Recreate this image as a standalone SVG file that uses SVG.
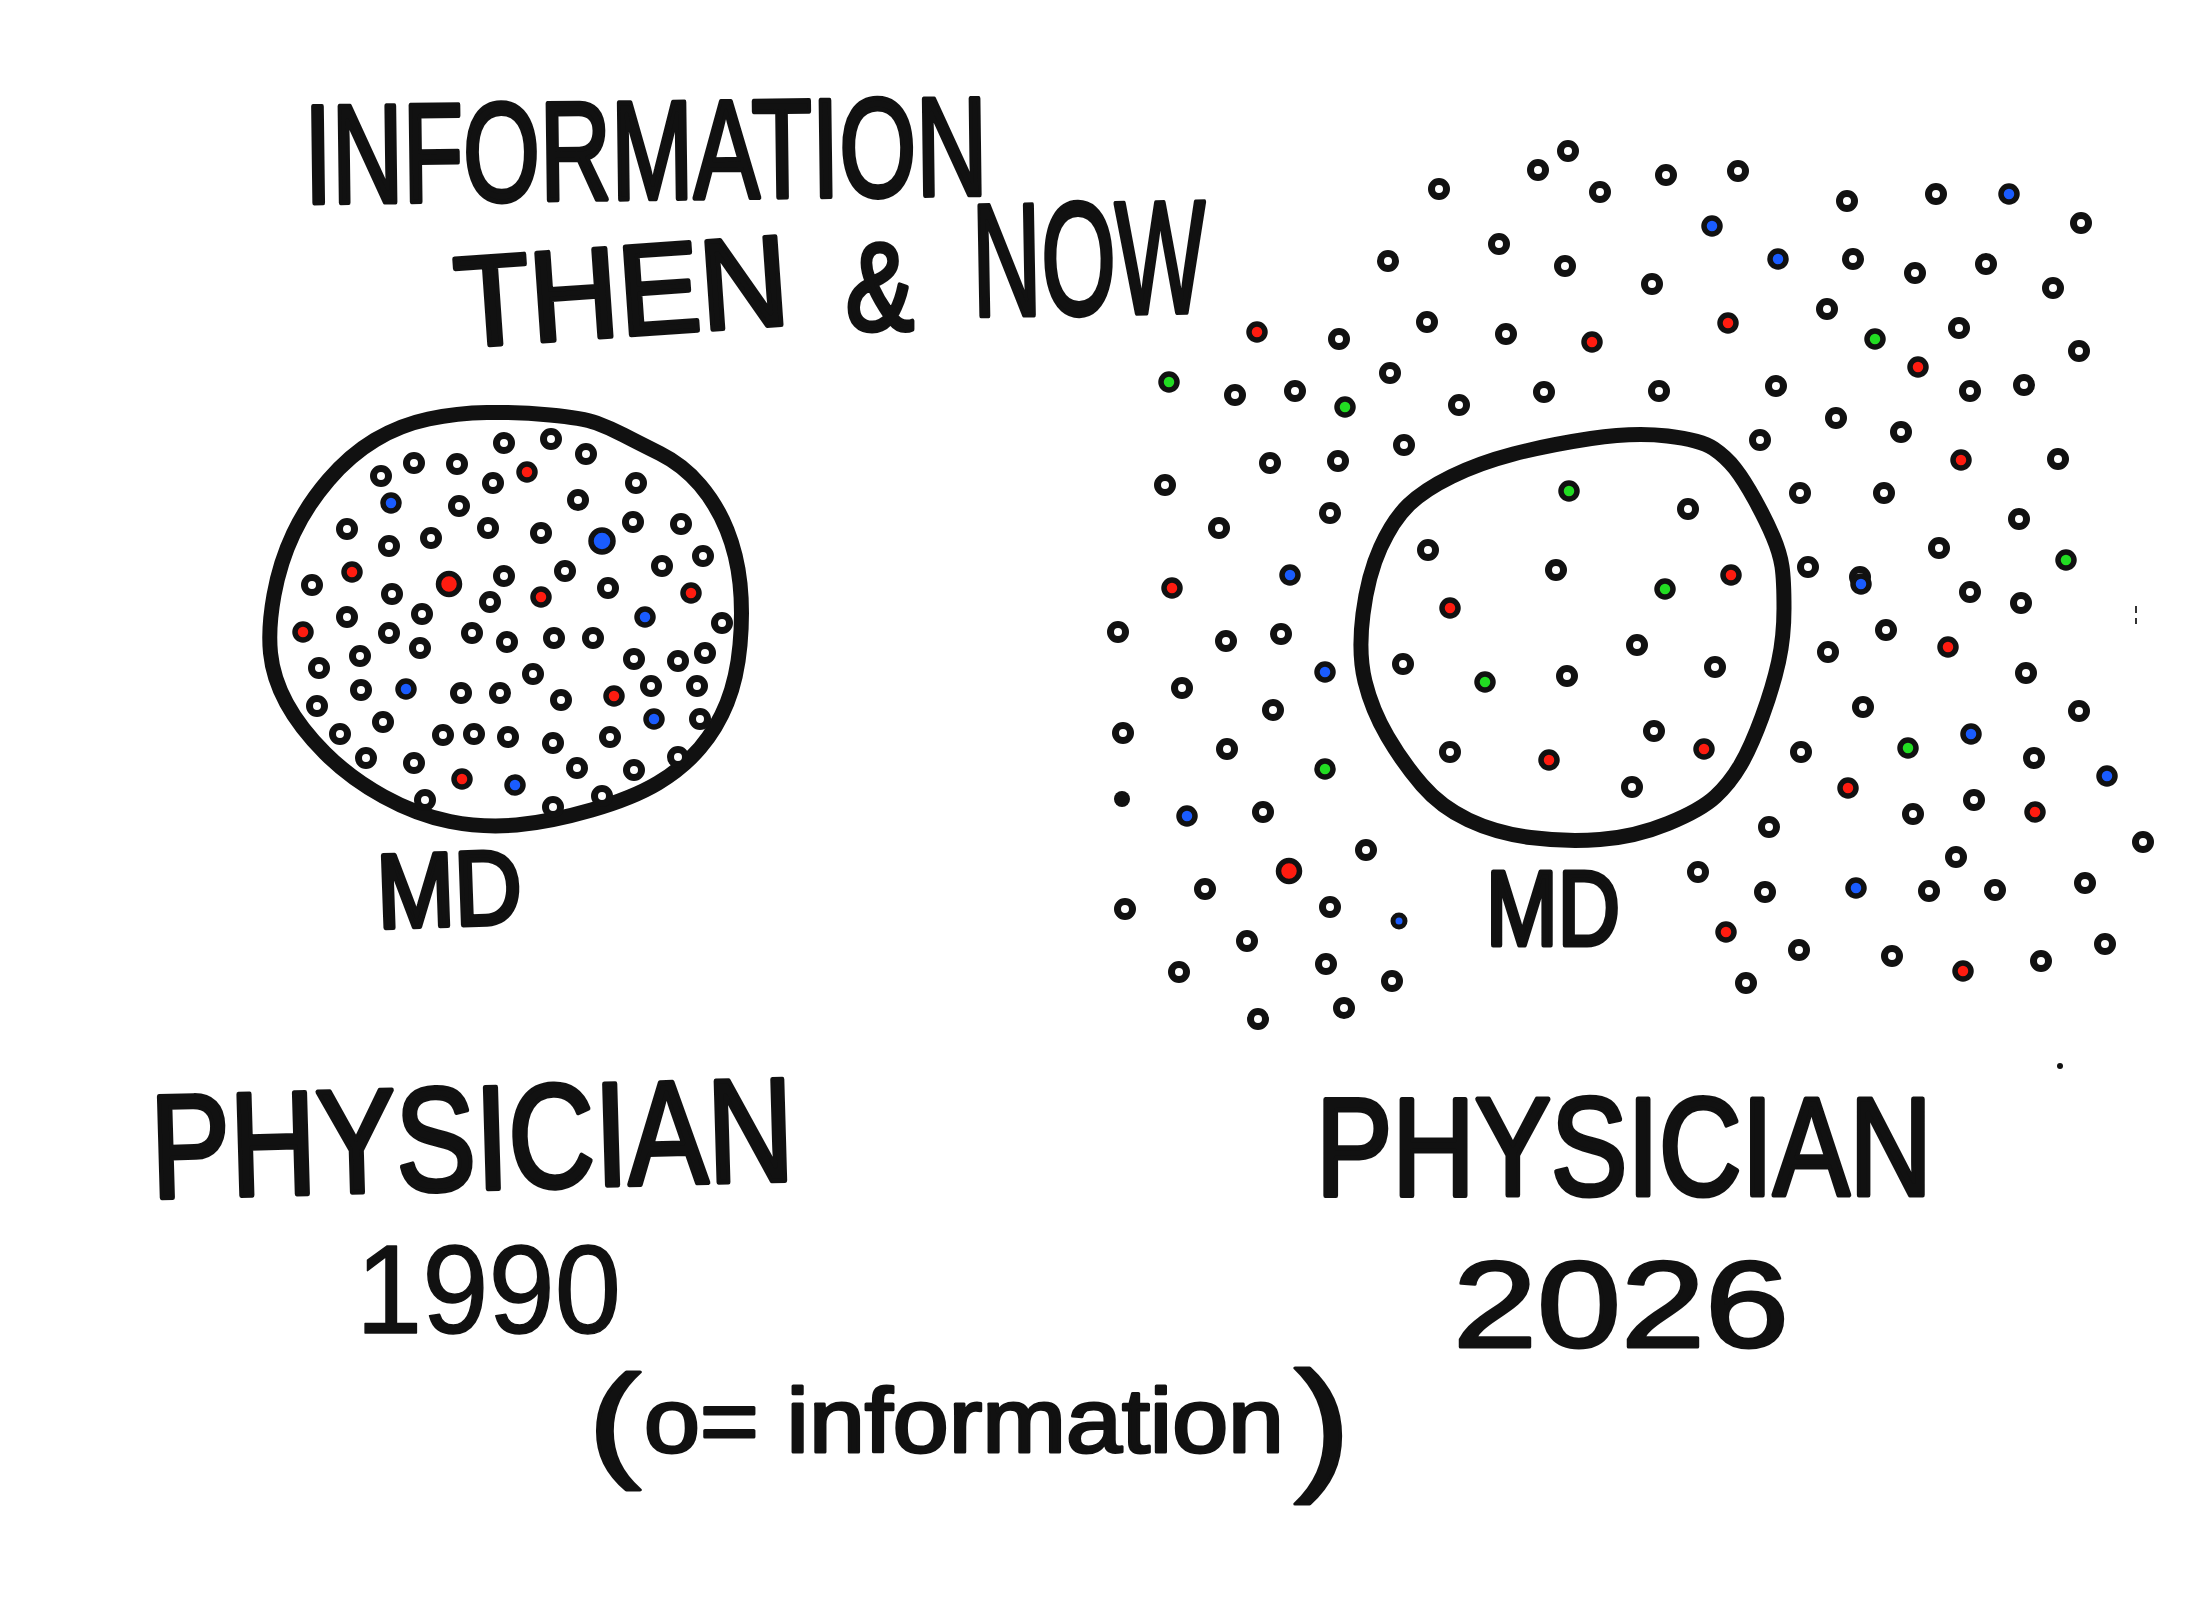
<svg xmlns="http://www.w3.org/2000/svg" width="2208" height="1597" viewBox="0 0 2208 1597">
<style>
.t{font-family:"Liberation Sans",Arial,sans-serif;fill:#111;stroke:#111;stroke-width:5;stroke-linejoin:round}
.thin{stroke-width:1.5}
.mid{stroke-width:3}
.ring{fill:none;stroke:#111;stroke-width:15;stroke-linejoin:round}
</style>
<defs>
<circle id="o" r="7.5" fill="#fff" stroke="#111" stroke-width="7"/>
<circle id="k" r="8" fill="#111"/>
<circle id="R" r="8" fill="#ff1c10" stroke="#111" stroke-width="5.5"/>
<circle id="RB" r="10.5" fill="#ff1c10" stroke="#111" stroke-width="5.5"/>
<circle id="B" r="8" fill="#1a5cff" stroke="#111" stroke-width="5.5"/>
<circle id="BB" r="11" fill="#1a5cff" stroke="#111" stroke-width="5.5"/>
<circle id="Bs" r="6" fill="#1a5cff" stroke="#111" stroke-width="5"/>
<circle id="G" r="8" fill="#22dd22" stroke="#111" stroke-width="5.5"/>
</defs>
<rect width="2208" height="1597" fill="#fff"/>

<g id="title">
<text class="t" x="305" y="203" font-size="140" textLength="683" lengthAdjust="spacingAndGlyphs" transform="rotate(-0.7 305 203)">INFORMATION</text>
<text class="t" x="458" y="347" font-size="128" textLength="334" lengthAdjust="spacingAndGlyphs" transform="rotate(-4 458 347)">THEN</text>
<text class="t" x="846" y="330" font-size="125" textLength="68" lengthAdjust="spacingAndGlyphs">&amp;</text>
<text class="t" x="973" y="316" font-size="160" textLength="234" lengthAdjust="spacingAndGlyphs" transform="rotate(-1 973 316)">NOW</text>
</g>

<g id="md-1990">
<path class="ring" d="M270.5,653 Q268,628 274,595 Q280,562 293.5,533.5 Q307,505 328.5,480 Q350,455 375,440 Q400,425 428.5,419 Q457,413 487,412.5 Q517,412 550,415 Q583,418 596.5,423 Q610,428 623.5,435 Q637,442 660,453.5 Q683,465 700,485 Q717,505 727,530 Q737,555 740,583.5 Q743,612 740,645 Q737,678 727,703 Q717,728 700,748 Q683,768 658,783 Q633,798 591.5,810 Q550,822 516.5,825 Q483,828 450,821.5 Q417,815 383.5,796.5 Q350,778 325,753 Q300,728 286.5,703 Q273,678 270.5,653 Z"/>
<g id="dots-1990">
<use href="#o" x="504" y="443"/><use href="#o" x="551" y="439"/><use href="#o" x="586" y="454"/><use href="#o" x="414" y="463"/><use href="#o" x="457" y="464"/><use href="#o" x="381" y="476"/><use href="#o" x="493" y="483"/><use href="#o" x="636" y="483"/><use href="#o" x="459" y="506"/><use href="#o" x="578" y="500"/><use href="#o" x="347" y="529"/><use href="#o" x="488" y="528"/><use href="#o" x="541" y="533"/><use href="#o" x="633" y="522"/><use href="#o" x="681" y="524"/><use href="#o" x="431" y="538"/><use href="#o" x="389" y="546"/><use href="#o" x="703" y="556"/><use href="#o" x="504" y="576"/><use href="#o" x="565" y="571"/><use href="#o" x="662" y="566"/><use href="#o" x="312" y="585"/><use href="#o" x="392" y="594"/><use href="#o" x="608" y="588"/><use href="#o" x="490" y="602"/><use href="#o" x="422" y="614"/><use href="#o" x="347" y="617"/><use href="#o" x="722" y="623"/><use href="#o" x="389" y="633"/><use href="#o" x="472" y="633"/><use href="#o" x="507" y="642"/><use href="#o" x="554" y="638"/><use href="#o" x="593" y="638"/><use href="#o" x="420" y="648"/><use href="#o" x="360" y="656"/><use href="#o" x="634" y="659"/><use href="#o" x="678" y="661"/><use href="#o" x="705" y="653"/><use href="#o" x="319" y="668"/><use href="#o" x="533" y="674"/><use href="#o" x="361" y="690"/><use href="#o" x="461" y="693"/><use href="#o" x="500" y="693"/><use href="#o" x="561" y="700"/><use href="#o" x="651" y="686"/><use href="#o" x="697" y="686"/><use href="#o" x="317" y="706"/><use href="#o" x="383" y="722"/><use href="#o" x="700" y="719"/><use href="#o" x="340" y="734"/><use href="#o" x="443" y="735"/><use href="#o" x="474" y="734"/><use href="#o" x="508" y="737"/><use href="#o" x="553" y="743"/><use href="#o" x="610" y="737"/><use href="#o" x="366" y="758"/><use href="#o" x="414" y="763"/><use href="#o" x="577" y="768"/><use href="#o" x="634" y="770"/><use href="#o" x="678" y="757"/><use href="#o" x="425" y="800"/><use href="#o" x="553" y="807"/><use href="#o" x="602" y="796"/>
<use href="#R" x="527" y="472"/><use href="#R" x="352" y="572"/><use href="#R" x="541" y="597"/><use href="#R" x="691" y="593"/><use href="#R" x="303" y="632"/><use href="#R" x="614" y="696"/><use href="#R" x="462" y="779"/><use href="#RB" x="449" y="584"/>
<use href="#B" x="391" y="503"/><use href="#B" x="645" y="617"/><use href="#B" x="406" y="689"/><use href="#B" x="654" y="719"/><use href="#B" x="515" y="785"/><use href="#BB" x="602" y="541"/>
</g>
<text class="t" x="378" y="928" font-size="105" textLength="145" lengthAdjust="spacingAndGlyphs" transform="rotate(-2 378 928)">MD</text>
</g>

<g id="md-2026">
<path class="ring" d="M1365,681.5 Q1358,653 1363,614 Q1368,575 1380.5,547.5 Q1393,520 1408.5,505 Q1424,490 1451.5,476.5 Q1479,463 1513.5,454 Q1548,445 1591,438.5 Q1634,432 1667.5,436 Q1701,440 1713.5,448.5 Q1726,457 1735,468.5 Q1744,480 1755,500 Q1766,520 1773,536.5 Q1780,553 1782,566.5 Q1784,580 1784,608.5 Q1784,637 1778.5,662 Q1773,687 1762,717 Q1751,747 1740.5,765 Q1730,783 1715.5,796.5 Q1701,810 1668,823.5 Q1635,837 1600,839.5 Q1565,842 1530.5,837.5 Q1496,833 1468.5,820 Q1441,807 1422,785 Q1403,763 1387.5,736.5 Q1372,710 1365,681.5 Z"/>
<g id="dots-2026-inside">
<use href="#o" x="1428" y="550"/><use href="#o" x="1556" y="570"/><use href="#o" x="1403" y="664"/><use href="#o" x="1567" y="676"/><use href="#o" x="1450" y="752"/><use href="#o" x="1637" y="645"/><use href="#o" x="1715" y="667"/><use href="#o" x="1654" y="731"/><use href="#o" x="1632" y="787"/><use href="#o" x="1688" y="509"/>
<use href="#G" x="1569" y="491"/><use href="#G" x="1485" y="682"/><use href="#G" x="1665" y="589"/>
<use href="#R" x="1450" y="608"/><use href="#R" x="1549" y="760"/><use href="#R" x="1731" y="575"/><use href="#R" x="1704" y="749"/>
</g>
<text class="t" x="1486" y="945" font-size="105" textLength="134" lengthAdjust="spacingAndGlyphs">MD</text>
</g>

<g id="dots-2026-outside">
<use href="#o" x="1439" y="189"/><use href="#o" x="1538" y="170"/><use href="#o" x="1568" y="151"/><use href="#o" x="1600" y="192"/><use href="#o" x="1499" y="244"/><use href="#o" x="1388" y="261"/><use href="#o" x="1565" y="266"/><use href="#o" x="1339" y="339"/><use href="#o" x="1427" y="322"/><use href="#o" x="1506" y="334"/><use href="#o" x="1235" y="395"/><use href="#o" x="1295" y="391"/><use href="#o" x="1390" y="373"/><use href="#o" x="1459" y="405"/><use href="#o" x="1544" y="392"/><use href="#o" x="1404" y="445"/><use href="#o" x="1270" y="463"/><use href="#o" x="1338" y="461"/><use href="#o" x="1165" y="485"/><use href="#o" x="1330" y="513"/><use href="#o" x="1219" y="528"/>
<use href="#o" x="1666" y="175"/><use href="#o" x="1738" y="171"/><use href="#o" x="1847" y="201"/><use href="#o" x="1936" y="194"/><use href="#o" x="2081" y="223"/><use href="#o" x="1853" y="259"/><use href="#o" x="1915" y="273"/><use href="#o" x="1986" y="264"/><use href="#o" x="2053" y="288"/><use href="#o" x="1652" y="284"/><use href="#o" x="1827" y="309"/><use href="#o" x="1959" y="328"/><use href="#o" x="2079" y="351"/><use href="#o" x="1659" y="391"/><use href="#o" x="1776" y="386"/><use href="#o" x="1970" y="391"/><use href="#o" x="2024" y="385"/><use href="#o" x="1836" y="418"/><use href="#o" x="1901" y="432"/><use href="#o" x="1760" y="440"/><use href="#o" x="2058" y="459"/><use href="#o" x="1800" y="493"/><use href="#o" x="1884" y="493"/><use href="#o" x="2019" y="519"/><use href="#o" x="1939" y="548"/><use href="#o" x="1808" y="567"/><use href="#o" x="1860" y="577"/>
<use href="#o" x="1118" y="632"/><use href="#o" x="1226" y="641"/><use href="#o" x="1281" y="634"/><use href="#o" x="1182" y="688"/><use href="#o" x="1273" y="710"/><use href="#o" x="1123" y="733"/><use href="#o" x="1227" y="749"/><use href="#o" x="1263" y="812"/><use href="#o" x="1366" y="850"/><use href="#o" x="1205" y="889"/><use href="#o" x="1125" y="909"/><use href="#o" x="1330" y="907"/><use href="#o" x="1247" y="941"/><use href="#o" x="1326" y="964"/><use href="#o" x="1179" y="972"/><use href="#o" x="1392" y="981"/><use href="#o" x="1344" y="1008"/><use href="#o" x="1258" y="1019"/>
<use href="#o" x="1970" y="592"/><use href="#o" x="2021" y="603"/><use href="#o" x="1886" y="630"/><use href="#o" x="1828" y="652"/><use href="#o" x="2026" y="673"/><use href="#o" x="1863" y="707"/><use href="#o" x="2079" y="711"/><use href="#o" x="1801" y="752"/><use href="#o" x="2034" y="758"/><use href="#o" x="1974" y="800"/><use href="#o" x="1913" y="814"/><use href="#o" x="1769" y="827"/><use href="#o" x="2143" y="842"/><use href="#o" x="1956" y="857"/><use href="#o" x="1698" y="872"/><use href="#o" x="1765" y="892"/><use href="#o" x="1929" y="891"/><use href="#o" x="1995" y="890"/><use href="#o" x="2085" y="883"/><use href="#o" x="1799" y="950"/><use href="#o" x="1892" y="956"/><use href="#o" x="2041" y="961"/><use href="#o" x="2105" y="944"/><use href="#o" x="1746" y="983"/>
<use href="#k" x="1122" y="799"/>
<use href="#R" x="1257" y="332"/><use href="#R" x="1592" y="342"/><use href="#R" x="1728" y="323"/><use href="#R" x="1918" y="367"/><use href="#R" x="1961" y="460"/><use href="#R" x="1172" y="588"/><use href="#R" x="1948" y="647"/><use href="#R" x="1848" y="788"/><use href="#R" x="2035" y="812"/><use href="#R" x="1726" y="932"/><use href="#R" x="1963" y="971"/><use href="#RB" x="1289" y="871"/>
<use href="#G" x="1169" y="382"/><use href="#G" x="1345" y="407"/><use href="#G" x="1875" y="339"/><use href="#G" x="2066" y="560"/><use href="#G" x="1325" y="769"/><use href="#G" x="1908" y="748"/>
<use href="#B" x="1712" y="226"/><use href="#B" x="1778" y="259"/><use href="#B" x="2009" y="194"/><use href="#B" x="1290" y="575"/><use href="#B" x="1325" y="672"/><use href="#B" x="1187" y="816"/><use href="#B" x="1861" y="584"/><use href="#B" x="1971" y="734"/><use href="#B" x="2107" y="776"/><use href="#B" x="1856" y="888"/><use href="#Bs" x="1399" y="921"/>
<circle cx="2060" cy="1066" r="3" fill="#111"/>
<line x1="2136" y1="606" x2="2136" y2="624" stroke="#333" stroke-width="2" stroke-dasharray="7 5"/>
</g>

<g id="labels">
<text class="t" x="152" y="1198" font-size="147" textLength="643" lengthAdjust="spacingAndGlyphs" transform="rotate(-1.6 152 1198)">PHYSICIAN</text>
<text class="t thin" x="356" y="1333" font-size="126" textLength="265" lengthAdjust="spacingAndGlyphs">1990</text>
<text class="t" x="1316" y="1195" font-size="140" textLength="616" lengthAdjust="spacingAndGlyphs">PHYSICIAN</text>
<text class="t mid" x="1453" y="1347" font-size="123" textLength="336" lengthAdjust="spacingAndGlyphs">2026</text>
</g>

<g id="legend">
<text class="t mid" x="588" y="1464" font-size="126" textLength="53" lengthAdjust="spacingAndGlyphs">(</text>
<text class="t mid" x="644" y="1452" font-size="90" textLength="640" lengthAdjust="spacingAndGlyphs">o= information</text>
<text class="t mid" x="1294" y="1474" font-size="147" textLength="57" lengthAdjust="spacingAndGlyphs">)</text>
</g>
</svg>
